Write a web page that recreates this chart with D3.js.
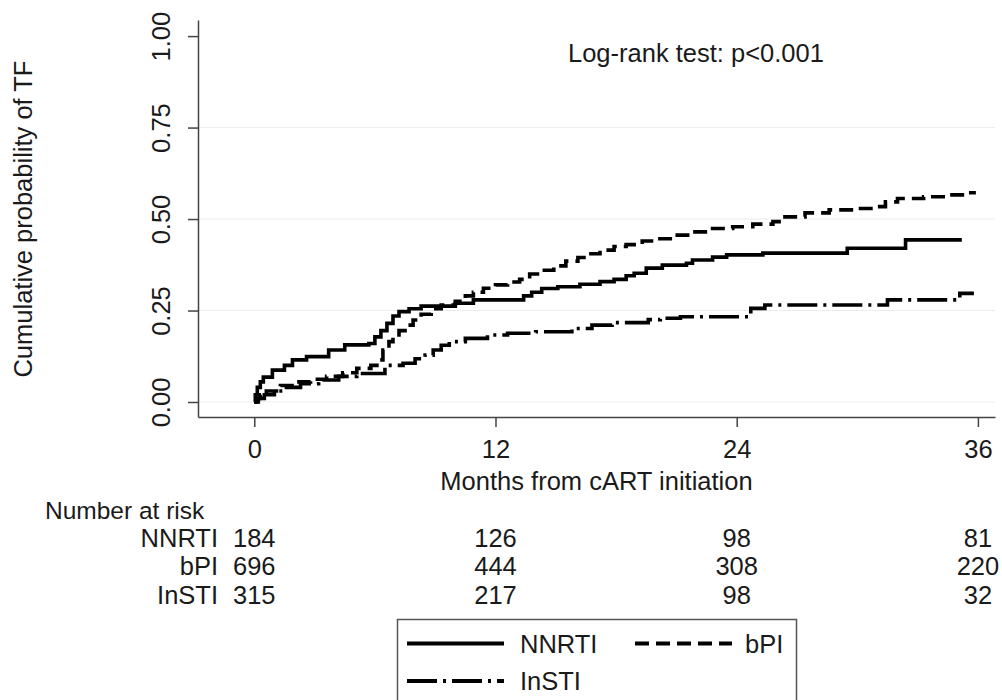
<!DOCTYPE html>
<html>
<head>
<meta charset="utf-8">
<script src="https://cdn.jsdelivr.net/npm/d3@7"></script>
<style>
  html, body { margin: 0; padding: 0; background: #fff; }
  svg { display: block; font-family: "Liberation Sans", Arial, Helvetica, sans-serif; }
</style>
</head>
<body>
<svg id="chart" width="1002" height="700"></svg>
<script>
// ---------------- data ----------------
const categories = ["NNRTI", "bPI", "InSTI"];
const xTicks = [0, 12, 24, 36];
const yTicks = [0, 0.25, 0.5, 0.75, 1];
const yTickLabels = ["0.00", "0.25", "0.50", "0.75", "1.00"];
const gridValues = [0, 0.25, 0.5, 0.75];

// Kaplan-Meier cumulative incidence steps: [month, probability]
const nnrtiCurve = [
  [0, 0], [0.05, 0.02], [0.15, 0.04], [0.3, 0.055], [0.45, 0.068], [0.9, 0.087],
  [1.5, 0.10], [1.9, 0.115], [2.6, 0.124], [3.7, 0.142], [4.5, 0.156], [5.7, 0.160],
  [6.0, 0.178], [6.3, 0.195], [6.6, 0.215], [6.9, 0.235], [7.2, 0.247], [7.7, 0.255],
  [8.3, 0.262], [10.0, 0.270], [10.9, 0.279], [13.4, 0.290], [13.8, 0.300], [14.3, 0.310],
  [15.1, 0.315], [16.2, 0.322], [17.2, 0.329], [17.9, 0.335], [18.5, 0.345], [18.9, 0.352],
  [19.5, 0.366], [20.3, 0.374], [21.5, 0.379], [21.8, 0.388], [22.8, 0.396], [23.5, 0.402],
  [25.3, 0.407], [29.5, 0.420], [32.4, 0.443], [35.2, 0.443]
];
const bpiCurve = [
  [0, 0], [0.1, 0.01], [0.3, 0.02], [0.6, 0.03], [1.3, 0.045], [2.0, 0.055], [2.8, 0.062],
  [3.6, 0.07], [4.4, 0.08], [5.1, 0.092], [5.8, 0.100], [6.1, 0.115], [6.4, 0.142],
  [6.7, 0.165], [6.9, 0.178], [7.2, 0.195], [7.5, 0.210], [7.9, 0.224], [8.3, 0.240],
  [8.8, 0.255], [9.3, 0.265], [10.0, 0.275], [10.5, 0.29], [10.9, 0.30], [11.4, 0.311],
  [12.0, 0.32], [12.6, 0.328], [13.2, 0.335], [13.7, 0.350], [14.3, 0.360], [14.9, 0.372],
  [15.5, 0.385], [16.1, 0.395], [16.6, 0.405], [17.2, 0.415], [17.9, 0.425], [18.5, 0.43],
  [19.3, 0.440], [20.0, 0.446], [20.8, 0.456], [21.8, 0.465], [22.8, 0.474], [23.8, 0.479],
  [24.8, 0.486], [25.8, 0.493], [26.4, 0.506], [27.4, 0.517], [28.6, 0.525], [29.8, 0.529],
  [30.8, 0.534], [31.4, 0.547], [32.0, 0.556], [33.3, 0.561], [34.4, 0.566], [35.5, 0.572],
  [35.9, 0.572]
];
const instiCurve = [
  [0, 0], [0.2, 0.01], [0.5, 0.02], [1.0, 0.03], [1.5, 0.04], [2.3, 0.05], [3.2, 0.06],
  [4.2, 0.07], [5.1, 0.078], [6.5, 0.100], [7.4, 0.106], [8.0, 0.118], [8.5, 0.128],
  [8.9, 0.142], [9.3, 0.155], [9.7, 0.165], [10.5, 0.174], [11.6, 0.183], [12.6, 0.188],
  [14.0, 0.192], [15.8, 0.201], [16.8, 0.210], [17.8, 0.217], [19.6, 0.225], [20.2, 0.229],
  [21.2, 0.233], [24.7, 0.256], [25.4, 0.265], [31.5, 0.279], [35.1, 0.297], [35.8, 0.297]
];

// Number at risk
const riskTimes = [0, 12, 24, 36];
const riskNNRTI = [184, 126, 98, 81];
const riskBPI = [696, 444, 308, 220];
const riskInSTI = [315, 217, 98, 32];

// ---------------- drawing ----------------
const svg = d3.select("#chart");
const FONT = 25.5;
const ink = "#1a1a1a";

const x = d3.scaleLinear().domain([-2.8, 36.85]).range([198, 995]);
const y = d3.scaleLinear().domain([-0.041, 1.044]).range([417, 20]);

// gridlines
svg.append("g").selectAll("line").data(gridValues).join("line")
  .attr("x1", 199).attr("x2", 995)
  .attr("y1", d => y(d)).attr("y2", d => y(d))
  .attr("stroke", "#ececec").attr("stroke-width", 1);

// x axis
const xAxis = svg.append("g").attr("transform", `translate(0,${y.range()[0]})`)
  .call(d3.axisBottom(x).tickValues(xTicks).tickSize(10).tickSizeOuter(0).tickPadding(12.5)
    .tickFormat(d3.format("d")));
xAxis.selectAll("path, line").attr("stroke", "#444").attr("stroke-width", 1.5);
xAxis.selectAll("text").attr("font-size", FONT).attr("fill", ink)
  .attr("font-family", "Liberation Sans, Arial, sans-serif");

// y axis
const yAxis = svg.append("g").attr("transform", `translate(${x.range()[0]},0)`)
  .call(d3.axisLeft(y).tickValues(yTicks).tickSize(10).tickSizeOuter(0)
    .tickFormat((d, i) => yTickLabels[i]));
yAxis.selectAll("path, line").attr("stroke", "#444").attr("stroke-width", 1.5);
yAxis.selectAll("text")
  .attr("x", null).attr("dy", null)
  .attr("text-anchor", "middle")
  .attr("transform", "translate(-28,0) rotate(-90)")
  .attr("font-size", FONT).attr("fill", ink)
  .attr("font-family", "Liberation Sans, Arial, sans-serif");

// axis titles
svg.append("text")
  .attr("transform", `translate(31.5,${(y(0) + y(1)) / 2}) rotate(-90)`)
  .attr("text-anchor", "middle").attr("font-size", FONT).attr("fill", ink)
  .text("Cumulative probability of TF");
svg.append("text")
  .attr("x", (198 + 995) / 2).attr("y", 490)
  .attr("text-anchor", "middle").attr("font-size", FONT).attr("fill", ink)
  .text("Months from cART initiation");

// annotation
svg.append("text")
  .attr("x", 568).attr("y", 62).attr("font-size", FONT).attr("fill", ink)
  .text("Log-rank test: p<0.001");

// curves
const styles = {
  NNRTI: null,
  bPI: "14,7",
  InSTI: "30,6,3,6"
};
const curves = { NNRTI: nnrtiCurve, bPI: bpiCurve, InSTI: instiCurve };
const line = d3.line().x(d => x(d[0])).y(d => y(d[1])).curve(d3.curveStepAfter);
const order = ["InSTI", "bPI", "NNRTI"];
order.forEach(k => {
  svg.append("path")
    .datum(curves[k])
    .attr("d", line)
    .attr("fill", "none")
    .attr("stroke", "#000")
    .attr("stroke-width", 3.6)
    .attr("stroke-linejoin", "miter")
    .attr("stroke-dasharray", styles[k]);
});

// number at risk table
svg.append("text").attr("x", 45).attr("y", 518.5)
  .attr("font-size", 24.5).attr("fill", ink).text("Number at risk");
const riskRows = [riskNNRTI, riskBPI, riskInSTI];
const rowY = [546.7, 575.3, 604];
categories.forEach((c, i) => {
  svg.append("text").attr("x", 218).attr("y", rowY[i])
    .attr("text-anchor", "end").attr("font-size", FONT).attr("fill", ink).text(c);
  svg.append("g").selectAll("text").data(riskRows[i]).join("text")
    .attr("x", (d, j) => x(riskTimes[j])).attr("y", rowY[i])
    .attr("text-anchor", "middle").attr("font-size", FONT).attr("fill", ink)
    .text(d => d);
});

// legend
const lg = svg.append("g");
lg.append("rect").attr("x", 397.5).attr("y", 619.5).attr("width", 399).attr("height", 100)
  .attr("fill", "#fff").attr("stroke", "#555").attr("stroke-width", 1.5);
const legendItems = [
  { key: "NNRTI", x1: 407, ty: 653, ly: 643.5, tx: 520 },
  { key: "bPI", x1: 635, ty: 653, ly: 643.5, tx: 745 },
  { key: "InSTI", x1: 407, ty: 690, ly: 681, tx: 520 }
];
legendItems.forEach(it => {
  lg.append("line").attr("x1", it.x1).attr("x2", it.x1 + 97)
    .attr("y1", it.ly).attr("y2", it.ly)
    .attr("stroke", "#000").attr("stroke-width", 4)
    .attr("stroke-dasharray", styles[it.key]);
  lg.append("text").attr("x", it.tx).attr("y", it.ty)
    .attr("font-size", FONT).attr("fill", ink).text(it.key);
});
</script>
</body>
</html>
